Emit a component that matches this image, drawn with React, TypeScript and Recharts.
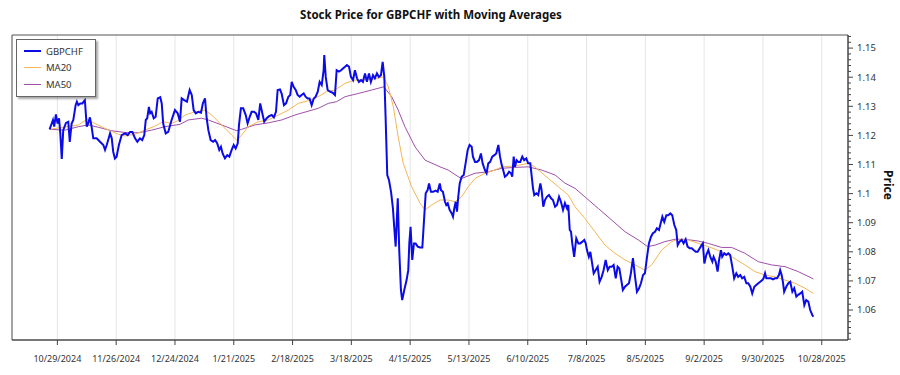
import {
  LineChart,
  Line,
  XAxis,
  YAxis,
  CartesianGrid,
  Legend,
  ReferenceArea,
} from 'recharts';

// x = days since 10/29/2024, y = price
const GBPCHF: [number, number][] = [
  [-3.7, 1.1221], [-2.7, 1.1241], [-2.1, 1.1253], [-1.5, 1.123], [-0.7, 1.1272], [0.1, 1.1241],
  [0.8, 1.1259], [1.4, 1.1207], [2.1, 1.1119], [2.8, 1.1218], [4.1, 1.1243], [5.2, 1.1247],
  [5.9, 1.1178], [6.8, 1.1241], [7.6, 1.1253], [8.7, 1.1304], [9.3, 1.1316], [10.0, 1.1304],
  [10.9, 1.131], [11.9, 1.131], [12.5, 1.1316], [13.1, 1.1321], [14.0, 1.123], [14.7, 1.1241],
  [15.5, 1.1262], [16.3, 1.123], [17.1, 1.119], [18.7, 1.119], [20.3, 1.1178], [21.9, 1.1167],
  [22.7, 1.115], [23.5, 1.1167], [24.2, 1.1184], [25.1, 1.1207], [25.9, 1.119], [26.6, 1.1144],
  [27.4, 1.1121], [28.2, 1.1127], [29.3, 1.1167], [30.6, 1.1201], [32.2, 1.1207], [33.5, 1.1201],
  [34.6, 1.1212], [35.7, 1.1212], [37.0, 1.119], [38.1, 1.1178], [39.3, 1.119], [40.4, 1.1184],
  [41.4, 1.1201], [42.1, 1.1253], [42.8, 1.1259], [43.6, 1.1298], [44.2, 1.1276], [44.9, 1.1281],
  [45.9, 1.1259], [46.8, 1.1264], [47.8, 1.1327], [49.0, 1.1331], [49.7, 1.131], [50.4, 1.1241],
  [51.6, 1.1207], [52.8, 1.1212], [54.4, 1.1253], [56.0, 1.1287], [57.3, 1.1276], [58.4, 1.1247],
  [59.2, 1.1327], [60.4, 1.1321], [61.7, 1.1316], [63.0, 1.1356], [64.0, 1.1339], [64.9, 1.1287],
  [65.9, 1.1276], [67.1, 1.1281], [68.4, 1.1278], [69.3, 1.131], [70.3, 1.1327], [71.1, 1.1259],
  [71.9, 1.1218], [73.0, 1.1184], [74.2, 1.1178], [75.1, 1.1184], [76.1, 1.1173], [77.1, 1.115],
  [77.9, 1.1161], [78.7, 1.1138], [79.8, 1.1121], [80.9, 1.1132], [81.9, 1.1127], [83.0, 1.115],
  [84.0, 1.1167], [84.9, 1.1155], [85.9, 1.1173], [86.5, 1.1236], [87.4, 1.1293], [88.5, 1.1293],
  [89.7, 1.127], [90.6, 1.1241], [91.6, 1.1264], [92.5, 1.1281], [93.6, 1.1281], [94.6, 1.1276],
  [95.7, 1.1253], [96.6, 1.131], [97.6, 1.1276], [98.5, 1.1247], [99.7, 1.1259], [100.8, 1.1266],
  [102.1, 1.127], [103.1, 1.1262], [104.1, 1.1281], [104.9, 1.1356], [106.0, 1.1358], [106.8, 1.1344],
  [107.9, 1.1304], [108.9, 1.131], [110.0, 1.1333], [110.9, 1.1339], [111.6, 1.1384], [112.5, 1.1367],
  [113.5, 1.1356], [114.4, 1.1339], [115.4, 1.1333], [116.3, 1.1339], [117.3, 1.1344], [118.2, 1.1333],
  [119.2, 1.1327], [120.1, 1.1327], [121.1, 1.1304], [122.1, 1.1327], [123.0, 1.1333], [124.0, 1.135],
  [124.9, 1.1384], [125.9, 1.1373], [126.8, 1.1424], [127.1, 1.1476], [127.8, 1.1401], [128.7, 1.1356],
  [130.0, 1.135], [131.2, 1.1346], [132.2, 1.1339], [133.0, 1.1424], [134.1, 1.1419], [135.1, 1.1424],
  [136.0, 1.143], [137.0, 1.1436], [137.9, 1.1442], [138.9, 1.1436], [139.8, 1.1401], [140.8, 1.139],
  [141.7, 1.1424], [142.7, 1.1396], [143.6, 1.1384], [144.6, 1.139], [145.5, 1.1384], [146.5, 1.1413],
  [147.4, 1.1384], [148.4, 1.1413], [149.3, 1.1384], [150.3, 1.1407], [151.2, 1.1396], [152.2, 1.1413],
  [153.1, 1.1401], [154.1, 1.1407], [154.9, 1.1453], [155.7, 1.1401], [156.3, 1.1264], [157.1, 1.1064],
  [157.9, 1.1047], [158.9, 1.1006], [159.8, 1.0949], [160.4, 1.0886], [161.1, 1.0818], [162.1, 1.0984],
  [162.8, 1.0806], [163.6, 1.0669], [164.2, 1.0634], [165.2, 1.0669], [166.3, 1.0703], [167.1, 1.0737],
  [167.6, 1.0829], [168.2, 1.0886], [169.0, 1.0772], [169.8, 1.0829], [170.6, 1.0829], [171.6, 1.0818],
  [172.7, 1.0815], [173.8, 1.0815], [174.6, 1.0909], [175.4, 1.1001], [176.3, 1.1012], [177.0, 1.1035],
  [177.9, 1.1006], [179.0, 1.1006], [180.1, 1.101], [181.1, 1.1006], [182.1, 1.1035], [182.7, 1.1012],
  [183.6, 1.1006], [184.6, 1.0972], [185.2, 1.0961], [185.9, 1.0967], [186.8, 1.0944], [187.8, 1.0932],
  [188.4, 1.0921], [189.0, 1.0949], [189.7, 1.0972], [190.3, 1.0938], [190.9, 1.0989], [191.6, 1.1035],
  [192.5, 1.1058], [193.5, 1.1064], [194.4, 1.1104], [195.4, 1.115], [196.3, 1.1167], [197.3, 1.1161],
  [197.9, 1.1127], [198.9, 1.1109], [199.8, 1.1109], [200.8, 1.1115], [201.7, 1.1138], [202.5, 1.1104],
  [203.6, 1.1081], [204.4, 1.107], [205.2, 1.1104], [206.1, 1.1109], [207.1, 1.1127], [208.1, 1.1132],
  [209.0, 1.1138], [210.0, 1.1167], [210.8, 1.1127], [211.6, 1.1098], [212.3, 1.1081], [213.1, 1.1058],
  [214.1, 1.1064], [215.1, 1.1075], [216.0, 1.107], [216.6, 1.1058], [217.3, 1.1127], [217.9, 1.1092],
  [218.7, 1.1115], [219.5, 1.1109], [220.4, 1.1109], [221.4, 1.1127], [222.3, 1.1115], [223.3, 1.1121],
  [224.2, 1.1104], [225.2, 1.1104], [225.9, 1.1058], [226.5, 1.1018], [227.1, 1.0995], [228.1, 1.1001],
  [229.0, 1.0995], [230.0, 1.1035], [230.6, 1.1012], [231.4, 1.0955], [232.2, 1.0978], [233.1, 1.0989],
  [234.1, 1.0995], [235.1, 1.0984], [236.0, 1.0978], [237.0, 1.0955], [237.9, 1.0961], [238.9, 1.0989],
  [239.8, 1.0972], [240.8, 1.0944], [241.7, 1.0967], [242.7, 1.0949], [243.3, 1.0961], [244.0, 1.0875],
  [244.6, 1.0869], [245.2, 1.0829], [246.1, 1.0783], [247.1, 1.0846], [248.1, 1.0829], [249.0, 1.0829],
  [250.0, 1.0835], [250.9, 1.0841], [251.6, 1.0829], [252.2, 1.0806], [253.1, 1.0783], [253.8, 1.08],
  [254.4, 1.0772], [255.4, 1.0726], [256.3, 1.0737], [257.3, 1.0749], [258.2, 1.0697], [259.2, 1.0714],
  [260.1, 1.0737], [261.1, 1.0772], [262.1, 1.0737], [263.0, 1.0749], [264.0, 1.0749], [264.9, 1.0755],
  [265.9, 1.0709], [266.8, 1.0749], [267.6, 1.0743], [268.4, 1.0709], [269.3, 1.0669], [270.3, 1.068],
  [271.2, 1.0686], [272.2, 1.0692], [273.1, 1.0726], [274.1, 1.0778], [275.1, 1.0714], [276.0, 1.0663],
  [277.0, 1.0675], [277.9, 1.0692], [278.9, 1.072], [279.8, 1.0726], [280.8, 1.0783], [281.7, 1.0829],
  [282.7, 1.0852], [283.6, 1.0864], [284.6, 1.0869], [285.5, 1.0881], [286.5, 1.0875], [287.3, 1.0898],
  [288.1, 1.0921], [289.0, 1.0903], [290.0, 1.0926], [290.9, 1.0926], [291.9, 1.0932], [292.8, 1.0926],
  [293.8, 1.0892], [294.7, 1.0875], [295.4, 1.0823], [296.3, 1.0835], [297.3, 1.0841], [298.2, 1.0829],
  [299.2, 1.0843], [300.1, 1.0818], [301.1, 1.0812], [302.1, 1.0812], [303.0, 1.0806], [304.0, 1.08],
  [304.9, 1.08], [305.9, 1.0812], [306.8, 1.0823], [307.4, 1.0829], [308.1, 1.076], [309.0, 1.0789],
  [310.0, 1.0806], [310.9, 1.0783], [311.9, 1.0766], [312.5, 1.0783], [313.5, 1.0766], [314.4, 1.0732],
  [315.1, 1.0772], [316.0, 1.0806], [316.6, 1.0783], [317.6, 1.0795], [318.5, 1.0789], [319.5, 1.0795],
  [320.4, 1.0789], [321.4, 1.0749], [322.3, 1.0709], [323.3, 1.0726], [324.2, 1.0714], [325.2, 1.072],
  [326.1, 1.0709], [327.1, 1.0714], [328.1, 1.0692], [329.0, 1.0692], [330.0, 1.068], [330.9, 1.0657],
  [331.9, 1.068], [332.8, 1.0686], [333.8, 1.0692], [334.7, 1.0697], [335.7, 1.0703], [336.3, 1.0709],
  [337.0, 1.0726], [337.6, 1.0709], [338.5, 1.0709], [339.8, 1.0709], [340.8, 1.0705], [341.7, 1.0709],
  [342.7, 1.0709], [343.6, 1.072], [344.2, 1.0737], [344.9, 1.072], [345.5, 1.0697], [346.1, 1.0663],
  [347.1, 1.068], [348.1, 1.0692], [349.0, 1.0697], [350.0, 1.0663], [350.9, 1.0675], [351.9, 1.0646],
  [352.8, 1.0652], [353.8, 1.0657], [354.7, 1.0663], [355.7, 1.0617], [356.6, 1.0634], [357.6, 1.0629],
  [358.5, 1.06], [359.5, 1.0583], [360.0, 1.0577],
];

const MA20: [number, number][] = [
  [-3.7, 1.1221], [10.0, 1.1236], [14.0, 1.1255], [17.9, 1.1241], [22.7, 1.1224], [29.0, 1.1204],
  [32.2, 1.1198], [37.0, 1.1204], [41.7, 1.1218], [46.5, 1.1232], [50.4, 1.1247], [54.4, 1.1241],
  [57.0, 1.1249], [60.8, 1.127], [65.5, 1.1281], [70.3, 1.1287], [73.5, 1.127], [78.2, 1.1236],
  [83.0, 1.1201], [85.4, 1.1184], [87.8, 1.1201], [90.9, 1.123], [95.7, 1.1247], [100.4, 1.1253],
  [105.2, 1.127], [110.0, 1.1287], [114.7, 1.131], [120.3, 1.1321], [124.2, 1.1333], [128.2, 1.135],
  [132.2, 1.1356], [137.0, 1.1379], [141.7, 1.139], [149.7, 1.1392], [155.2, 1.1401], [157.6, 1.1367],
  [160.0, 1.1298], [162.3, 1.1195], [164.7, 1.1104], [168.7, 1.1024], [172.7, 1.0967], [175.1, 1.0944],
  [178.2, 1.0961], [182.2, 1.0978], [186.1, 1.0978], [189.3, 1.0972], [192.5, 1.0989], [195.7, 1.1024],
  [198.9, 1.1052], [203.6, 1.107], [208.4, 1.1081], [211.6, 1.1092], [217.9, 1.1095], [224.2, 1.1104],
  [227.4, 1.1092], [233.8, 1.1052], [238.5, 1.1024], [243.3, 1.0995], [246.5, 1.0955], [251.2, 1.0915],
  [256.0, 1.0869], [260.8, 1.0823], [265.5, 1.0795], [270.3, 1.0772], [275.1, 1.0755], [279.8, 1.0737],
  [283.0, 1.0755], [287.8, 1.0806], [292.5, 1.0835], [295.7, 1.0843], [300.4, 1.0841], [305.2, 1.0829],
  [310.0, 1.0818], [316.3, 1.08], [321.1, 1.0783], [327.4, 1.0755], [332.2, 1.0732], [337.0, 1.072],
  [341.7, 1.0714], [346.5, 1.0703], [351.2, 1.0692], [356.0, 1.0675], [360.0, 1.0657],
];

const MA50: [number, number][] = [
  [-3.7, 1.1221], [3.6, 1.1218], [10.0, 1.123], [14.7, 1.1236], [19.5, 1.1228], [25.9, 1.1216],
  [32.2, 1.121], [38.5, 1.1209], [44.9, 1.1218], [51.2, 1.123], [58.4, 1.1238], [62.3, 1.1253],
  [68.7, 1.1259], [71.9, 1.1253], [78.2, 1.1236], [85.4, 1.1216], [87.8, 1.1221], [94.1, 1.1236],
  [100.4, 1.1243], [106.8, 1.1253], [113.1, 1.127], [120.3, 1.1285], [124.2, 1.1293], [129.0, 1.131],
  [133.0, 1.1316], [137.0, 1.1333], [143.3, 1.1344], [149.7, 1.1356], [155.4, 1.1367], [159.2, 1.1333],
  [162.3, 1.1287], [165.5, 1.123], [170.3, 1.1161], [175.1, 1.1115], [182.2, 1.1092], [186.1, 1.1081],
  [190.9, 1.1058], [192.5, 1.1052], [198.9, 1.107], [205.2, 1.1075], [211.6, 1.1087], [217.9, 1.109],
  [224.2, 1.1092], [230.6, 1.1081], [237.0, 1.1064], [241.7, 1.1036], [246.5, 1.1018], [251.2, 1.0989],
  [257.6, 1.0949], [264.0, 1.0909], [270.3, 1.0869], [276.6, 1.0841], [281.1, 1.0818], [284.6, 1.0823],
  [289.3, 1.0835], [294.1, 1.0843], [298.9, 1.0843], [305.2, 1.0837], [310.0, 1.0829], [316.3, 1.0815],
  [321.1, 1.0815], [327.4, 1.0795], [333.8, 1.0766], [340.1, 1.0755], [346.5, 1.0749], [352.8, 1.0732],
  [360.0, 1.0707],
];

const X_TICKS = [0, 28, 56, 84, 112, 140, 168, 196, 224, 252, 280, 308, 336, 364];
const X_LABELS = [
  '10/29/2024', '11/26/2024', '12/24/2024', '1/21/2025', '2/18/2025', '3/18/2025', '4/15/2025',
  '5/13/2025', '6/10/2025', '7/8/2025', '8/5/2025', '9/2/2025', '9/30/2025', '10/28/2025',
];
const Y_MAJOR = [1.06, 1.07, 1.08, 1.09, 1.1, 1.11, 1.12, 1.13, 1.14, 1.15];

const X_DOMAIN: [number, number] = [-21.6, 376.5];
const Y_DOMAIN: [number, number] = [1.0497, 1.1545];

const FONT = '"Noto Sans", "Open Sans", sans-serif';

const toPoints = (rows: [number, number][]) => rows.map(([d, v]) => ({ d, v }));

// minor ticks every 0.002 between the domain bounds
const Y_TICKS: number[] = [];
for (let k = Math.ceil(Y_DOMAIN[0] * 500); k <= Math.floor(Y_DOMAIN[1] * 500); k++) {
  Y_TICKS.push(k / 500);
}

const SERIES = [
  { name: 'GBPCHF', color: '#0b0be6', width: 2 },
  { name: 'MA20', color: '#f5b655', width: 1 },
  { name: 'MA50', color: '#a050a8', width: 1 },
];

function YTick({ x, y, payload }: any) {
  const v = payload.value as number;
  const major = Y_MAJOR.some((m) => Math.abs(m - v) < 1e-6);
  return (
    <g>
      <line x1={x} x2={x + (major ? 5 : 3)} y1={y} y2={y} stroke="#444" strokeWidth={1} />
      {major && (
        <text x={x + 9} y={y} dy="0.35em" fontSize={9.5} fill="#333" fontFamily={FONT}>
          {String(v)}
        </text>
      )}
    </g>
  );
}

function LegendBox() {
  return (
    <div
      style={{
        border: '1px solid #666',
        background: '#fff',
        boxShadow: '2px 2px 2px rgba(0,0,0,0.35)',
        padding: '3px 12px 3px 7px',
        fontFamily: FONT,
        fontSize: 9.5,
        color: '#333',
      }}
    >
      {SERIES.map((s) => (
        <div key={s.name} style={{ display: 'flex', alignItems: 'center', height: 16.5 }}>
          <span
            style={{
              display: 'inline-block',
              width: 17,
              height: 0,
              borderTop: `${s.width}px solid ${s.color}`,
              marginRight: 5,
            }}
          />
          {s.name}
        </div>
      ))}
    </div>
  );
}

export default function App() {
  return (
    <div style={{ position: 'absolute', left: 0, top: 0, width: 900, height: 375, background: '#fff' }}>
      <div
        style={{
          position: 'absolute',
          left: 0,
          top: 7,
          width: 862,
          textAlign: 'center',
          fontFamily: FONT,
          fontWeight: 'bold',
          fontSize: 11.5,
          color: '#111',
        }}
      >
        Stock Price for GBPCHF with Moving Averages
      </div>
      <div
        style={{
          position: 'absolute',
          left: 888,
          top: 185,
          transform: 'translate(-50%, -50%) rotate(90deg)',
          fontFamily: FONT,
          fontWeight: 'bold',
          fontSize: 12,
          color: '#111',
          whiteSpace: 'nowrap',
        }}
      >
        Price
      </div>
      <LineChart width={900} height={375} margin={{ top: 35, right: 12, bottom: 5, left: 12 }}>
        <CartesianGrid horizontal={false} stroke="#e6e6e6" />
        <XAxis
          dataKey="d"
          type="number"
          domain={X_DOMAIN}
          ticks={X_TICKS}
          interval={0}
          allowDataOverflow
          height={30}
          tickSize={5}
          tickMargin={11}
          tickFormatter={(d: number) => X_LABELS[X_TICKS.indexOf(d)] ?? ''}
          tick={{ fontSize: 9, fill: '#333', fontFamily: FONT }}
          axisLine={{ stroke: '#444' }}
          tickLine={{ stroke: '#444' }}
        />
        <YAxis
          orientation="right"
          type="number"
          domain={Y_DOMAIN}
          ticks={Y_TICKS}
          interval={0}
          allowDataOverflow
          width={40}
          tickSize={0}
          tickMargin={0}
          tickLine={false}
          tick={<YTick />}
          axisLine={{ stroke: '#444' }}
        />
        <ReferenceArea
          x1={X_DOMAIN[0]}
          x2={X_DOMAIN[1]}
          y1={Y_DOMAIN[0]}
          y2={Y_DOMAIN[1]}
          fill="none"
          stroke="#555"
          strokeWidth={1}
        />
        <Legend
          layout="horizontal"
          verticalAlign="middle"
          align="center"
          wrapperStyle={{ left: 16, top: 39, width: 'auto' }}
          content={() => <LegendBox />}
        />
        <Line
          data={toPoints(MA50)}
          dataKey="v"
          name="MA50"
          type="linear"
          stroke={SERIES[2].color}
          strokeWidth={1}
          dot={false}
          isAnimationActive={false}
        />
        <Line
          data={toPoints(MA20)}
          dataKey="v"
          name="MA20"
          type="linear"
          stroke={SERIES[1].color}
          strokeWidth={1}
          dot={false}
          isAnimationActive={false}
        />
        <Line
          data={toPoints(GBPCHF)}
          dataKey="v"
          name="GBPCHF"
          type="linear"
          stroke={SERIES[0].color}
          strokeWidth={2}
          dot={false}
          isAnimationActive={false}
        />
      </LineChart>
    </div>
  );
}
